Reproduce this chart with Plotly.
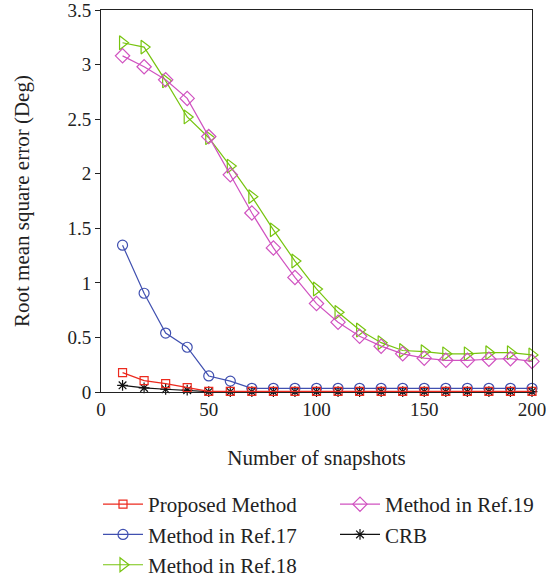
import plotly.graph_objects as go

snapshots = [10, 20, 30, 40, 50, 60, 70, 80, 90, 100, 110, 120, 130, 140, 150, 160, 170, 180, 190, 200]

proposed = [0.177, 0.104, 0.076, 0.04, 0.005, 0.005, 0.005, 0.005, 0.005, 0.005,
            0.005, 0.005, 0.005, 0.005, 0.005, 0.005, 0.005, 0.005, 0.005, 0.005]
ref17 = [1.345, 0.905, 0.54, 0.41, 0.147, 0.10, 0.034, 0.034, 0.034, 0.034,
         0.034, 0.034, 0.034, 0.034, 0.034, 0.034, 0.034, 0.034, 0.034, 0.034]
ref18 = [3.20, 3.16, 2.85, 2.52, 2.33, 2.07, 1.79, 1.485, 1.20, 0.944,
         0.73, 0.568, 0.452, 0.38, 0.37, 0.35, 0.35, 0.36, 0.36, 0.34]
ref19 = [3.08, 2.98, 2.86, 2.69, 2.34, 1.99, 1.64, 1.32, 1.05, 0.81,
         0.64, 0.51, 0.42, 0.35, 0.31, 0.29, 0.29, 0.30, 0.305, 0.28]
crb = [0.061, 0.037, 0.025, 0.017, 0.003, 0.003, 0.003, 0.003, 0.003, 0.003,
       0.003, 0.003, 0.003, 0.003, 0.003, 0.003, 0.003, 0.003, 0.003, 0.003]

names = ["Proposed Method", "Method in Ref.17", "Method in Ref.18", "Method in Ref.19", "CRB"]
x_title = "Number of snapshots"
y_title = "Root mean square error (Deg)"

FONT = "Liberation Serif, Times New Roman, serif"
TXT = "#222222"

fig = go.Figure()

def add(y, name, color, symbol, size, rank, legend):
    fig.add_trace(go.Scatter(
        x=snapshots, y=y, name=name, mode="lines+markers",
        line=dict(color=color, width=1.2),
        marker=dict(symbol=symbol, size=size, color=color,
                    line=dict(color=color, width=1.2)),
        legendrank=rank, legend=legend, cliponaxis=False,
    ))

add(ref18, names[2], "#77c40f", "triangle-right-open", 12, 3, "legend")
add(ref19, names[3], "#d052c0", "diamond-open", 11, 1, "legend2")
add(ref17, names[1], "#4050b0", "circle-open", 10, 2, "legend")
add(crb, names[4], "#111111", "asterisk-open", 9, 2, "legend2")
add(proposed, names[0], "#ec2a1e", "square-open", 8, 1, "legend")

legend_common = dict(
    orientation="v", xref="container", yref="container",
    xanchor="left", y=1 - 484 / 579, yanchor="top",
    font=dict(family=FONT, size=21, color=TXT),
    itemwidth=40, traceorder="normal", bgcolor="rgba(0,0,0,0)",
)

fig.update_layout(
    width=546, height=579,
    margin=dict(l=101, r=14, t=10, b=187, autoexpand=False),
    paper_bgcolor="white", plot_bgcolor="white",
    font=dict(family=FONT, size=19, color=TXT),
    showlegend=True,
    legend=dict(x=98 / 546, **legend_common),
    legend2=dict(x=335 / 546, **legend_common),
    xaxis=dict(
        range=[0, 200], dtick=50, tick0=0,
        showline=True, linecolor=TXT, linewidth=1, mirror=True,
        showgrid=False, zeroline=False, ticks="",
        ticklabeloverflow="allow",
        tickfont=dict(family=FONT, size=19, color=TXT),
        title=dict(text=x_title, font=dict(family=FONT, size=21, color=TXT), standoff=31),
    ),
    yaxis=dict(
        range=[0, 3.5], dtick=0.5, tick0=0,
        showline=True, linecolor=TXT, linewidth=1, mirror=True,
        showgrid=False, zeroline=False, ticks="outside", ticklen=5, tickcolor=TXT,
        ticklabeloverflow="allow",
        tickfont=dict(family=FONT, size=19, color=TXT),
    ),
    annotations=[dict(
        text=y_title, textangle=-90, showarrow=False,
        xref="paper", yref="paper", x=0, y=0.5, xanchor="center", yanchor="middle",
        xshift=-79, font=dict(family=FONT, size=21, color=TXT),
    )],
)

fig.write_html("out.html")
